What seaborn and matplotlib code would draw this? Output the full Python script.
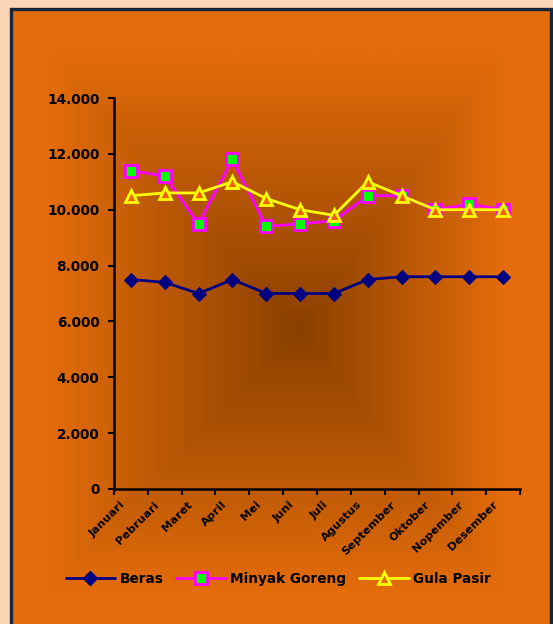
import numpy as np
import pandas as pd
import matplotlib
matplotlib.use("Agg")
import matplotlib.pyplot as plt
from matplotlib.patches import Rectangle
from matplotlib.ticker import FuncFormatter
from matplotlib.lines import Line2D
from matplotlib.transforms import ScaledTranslation
import seaborn as sns

# Monthly prices (Rp/kg)
bulan = ["Januari", "Pebruari", "Maret", "April", "Mei", "Juni", "Juli",
         "Agustus", "September", "Oktober", "Nopember", "Desember"]
beras = [7500, 7400, 7000, 7500, 7000, 7000, 7000, 7500, 7600, 7600, 7600, 7600]
minyak_goreng = [11400, 11200, 9500, 11800, 9400, 9500, 9600, 10500, 10500, 10000, 10200, 10000]
gula_pasir = [10500, 10600, 10600, 11000, 10400, 10000, 9800, 11000, 10500, 10000, 10000, 10000]
y_ticks = [0, 2000, 4000, 6000, 8000, 10000, 12000, 14000]

sns.set_theme(style="ticks")
plt.rcParams["font.family"] = ["DejaVu Sans"]
plt.rcParams["text.color"] = "black"
plt.rcParams["xtick.color"] = "black"
plt.rcParams["ytick.color"] = "black"

W, H, DPI = 553, 624, 100
fig = plt.figure(figsize=(W / DPI, H / DPI), dpi=DPI)
fig.patch.set_facecolor("#FBD5B5")

# Orange chart panel with a dark rectangular gradient in the middle
bg = fig.add_axes([0, 0, 1, 1], zorder=0)
bg.set_xlim(0, W)
bg.set_ylim(H, 0)
bg.axis("off")
bg.add_patch(Rectangle((11, 9), 540, 640, facecolor="#E46C0A",
                       edgecolor="#17263A", linewidth=2.4))
x0, x1, y0, y1 = 47, 505, 50, 593
cx, cy = 300, 330
xs = np.linspace(x0, x1, 400)
ys = np.linspace(y0, y1, 400)
X, Y = np.meshgrid(xs, ys)
tx = np.where(X < cx, (cx - X) / (cx - x0), (X - cx) / (x1 - cx))
ty = np.where(Y < cy, (cy - Y) / (cy - y0), (Y - cy) / (y1 - cy))
t = np.clip(np.maximum(tx, ty), 0, 1)
dark = np.array([138, 64, 0]) / 255
light = np.array([228, 108, 10]) / 255
img = dark[None, None, :] * (1 - t[..., None]) + light[None, None, :] * t[..., None]
bg.imshow(img, extent=(x0, x1, y1, y0), aspect="auto", interpolation="bilinear", zorder=1)

ax = fig.add_axes([114 / W, 1 - 489 / H, (520 - 114) / W, (489 - 98) / H], zorder=2)
ax.patch.set_alpha(0)

df = pd.DataFrame({"Bulan": bulan, "Beras": beras,
                   "Minyak Goreng": minyak_goreng, "Gula Pasir": gula_pasir})

sns.lineplot(data=df, x="Bulan", y="Beras", ax=ax, color="#000080", lw=2,
             marker="D", markersize=7, markerfacecolor="#000080",
             markeredgecolor="#000080", sort=False)
sns.lineplot(data=df, x="Bulan", y="Minyak Goreng", ax=ax, color="#FF00FF", lw=2,
             marker="s", markersize=8, markerfacecolor="#00FF00",
             markeredgecolor="#FF00FF", markeredgewidth=2, sort=False)
sns.lineplot(data=df, x="Bulan", y="Gula Pasir", ax=ax, color="#FFFF00", lw=2,
             marker="^", markersize=9, markerfacecolor="#F06000",
             markeredgecolor="#FFFF00", markeredgewidth=2, sort=False)

ax.set_xlim(-0.5, len(bulan) - 0.5)
ax.set_ylim(0, 14000)
ax.set_yticks(y_ticks)
ax.yaxis.set_major_formatter(FuncFormatter(lambda v, p: f"{int(v):,}".replace(",", ".")))
ax.set_xticks(np.arange(len(bulan)))
ax.set_xticks(np.arange(-0.5, len(bulan)), minor=True)
ax.tick_params(axis="x", which="major", bottom=True, length=0, pad=9)
ax.tick_params(axis="x", which="minor", bottom=True, length=4.5, width=1.5,
               color="black", direction="out")
ax.tick_params(axis="y", left=True, length=4.5, width=1.5, color="black",
               direction="out", labelsize=9.8, pad=6)
ax.set_xticklabels(bulan, rotation=45, ha="right", rotation_mode="anchor",
                   fontsize=8.2, fontweight="bold")
# Rotated month labels sit slightly left of their category centre
shift = ScaledTranslation(-11 / DPI, 2 / DPI, fig.dpi_scale_trans)
for lbl in ax.get_xticklabels():
    lbl.set_transform(lbl.get_transform() + shift)
for lbl in ax.get_yticklabels():
    lbl.set_fontweight("bold")
ax.set_xlabel("")
ax.set_ylabel("")
for s in ["top", "right"]:
    ax.spines[s].set_visible(False)
for s in ["left", "bottom"]:
    ax.spines[s].set_color("black")
    ax.spines[s].set_linewidth(1.8)

handles = [
    Line2D([], [], color="#000080", lw=2, marker="D", markersize=7,
           markerfacecolor="#000080", markeredgecolor="#000080"),
    Line2D([], [], color="#FF00FF", lw=2, marker="s", markersize=8,
           markerfacecolor="#00FF00", markeredgecolor="#FF00FF", markeredgewidth=2),
    Line2D([], [], color="#FFFF00", lw=2, marker="^", markersize=8,
           markerfacecolor="#E46C0A", markeredgecolor="#FFFF00", markeredgewidth=2),
]
fig.legend(handles, ["Beras", "Minyak Goreng", "Gula Pasir"], loc="center",
           bbox_to_anchor=(278 / W, 1 - 579 / H), ncol=3, frameon=False,
           prop={"weight": "bold", "size": 9.8}, handlelength=3.65,
           columnspacing=0.95, handletextpad=0.3)

fig.savefig("out.png", dpi=DPI, facecolor=fig.get_facecolor())
